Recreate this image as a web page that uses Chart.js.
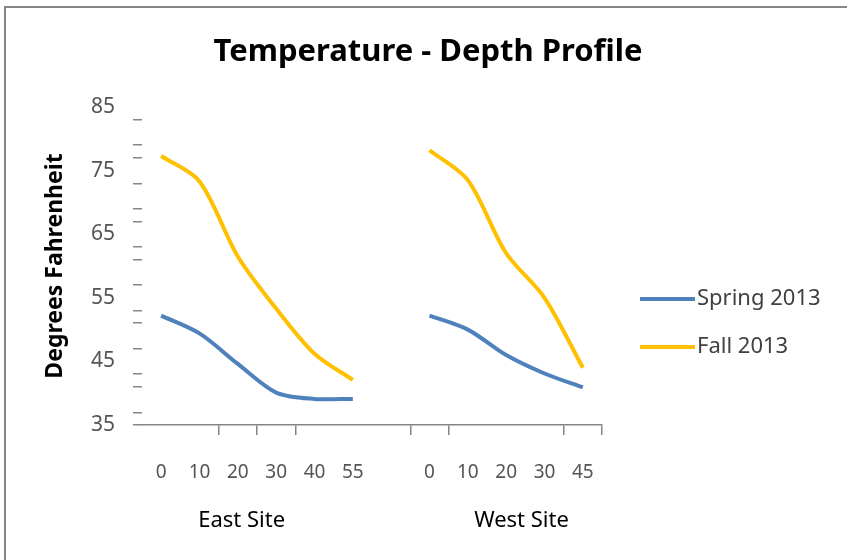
<!DOCTYPE html>
<html>
<head>
<meta charset="utf-8">
<title>Temperature - Depth Profile</title>
<script src="https://cdn.jsdelivr.net/npm/chart.js@4.4.1/dist/chart.umd.min.js"></script>
<style>
  body { margin: 0; background: #fff; }
  #wrap { position: relative; width: 847px; height: 560px; overflow: hidden; }
  #frame { position: absolute; left: 4px; top: 6px; width: 900px; height: 600px;
           border-top: 2px solid #868686; border-left: 2px solid #868686; pointer-events: none; }
</style>
</head>
<body>
<div id="wrap">
  <canvas id="myChart"></canvas>
  <div id="frame"></div>
</div>
<script>
// depth labels, blank slot between the two sites
const depthLabels = ["0", "10", "20", "30", "40", "55", "", "0", "10", "20", "30", "45"];
const groupLabels = ["East Site", "West Site"];

// degrees F
const springEast = [52.2, 49.4, 44.6, 40.1, 39.1, 39.1];
const springWest = [52.2, 50.0, 46.0, 43.1, 40.9];
const fallEast = [77.3, 73.3, 61.5, 53.3, 46.2, 42.1];
const fallWest = [78.2, 73.5, 62.0, 55.0, 44.0];

const yTickLabels = [35, 45, 55, 65, 75, 85];
// the little tick marks that show on the value axis
const yTickMarks = [35, 37, 41, 43, 47, 51, 53, 57, 61, 63, 67, 69, 73, 77, 79, 83];
// which category boundaries have a tick mark
const xTickMarks = [2, 3, 4, 7, 8, 11, 12];

const FONT = "'Noto Sans', sans-serif";

// title, legend and site names
const overlay = {
  id: "overlay",
  afterDraw(chart) {
    const ctx = chart.ctx;
    const x = chart.scales.x;
    ctx.save();

    ctx.fillStyle = "#000";
    ctx.textAlign = "center";
    ctx.textBaseline = "middle";
    ctx.font = "bold 31px " + FONT;
    ctx.fillText("Temperature - Depth Profile", 428, 52);

    ctx.font = "22px " + FONT;
    ctx.fillText(groupLabels[0], x.getPixelForValue(2.1), 521);
    ctx.fillText(groupLabels[1], x.getPixelForValue(9.4), 521);

    chart.data.datasets.forEach((ds, i) => {
      const y = 299 + i * 48;
      ctx.strokeStyle = ds.borderColor;
      ctx.lineWidth = 4;
      ctx.beginPath();
      ctx.moveTo(640, y);
      ctx.lineTo(695, y);
      ctx.stroke();
      ctx.fillStyle = "#404040";
      ctx.textAlign = "left";
      ctx.font = "22px " + FONT;
      ctx.fillText(ds.label, 697, y);
    });
    ctx.restore();
  }
};

const ctx = document.getElementById("myChart").getContext("2d");
new Chart(ctx, {
  type: "line",
  data: {
    labels: depthLabels,
    datasets: [
      {
        label: "Spring 2013",
        data: springEast.concat([null], springWest),
        borderColor: "#4F81BD",
        backgroundColor: "#4F81BD",
        borderWidth: 4,
        pointRadius: 0,
        tension: 0.3
      },
      {
        label: "Fall 2013",
        data: fallEast.concat([null], fallWest),
        borderColor: "#FFC000",
        backgroundColor: "#FFC000",
        borderWidth: 4,
        pointRadius: 0,
        tension: 0.3
      }
    ]
  },
  options: {
    responsive: true,
    maintainAspectRatio: false,
    animation: false,
    layout: { padding: { top: 107, right: 245, bottom: 0, left: 0 } },
    plugins: {
      legend: { display: false },
      title: { display: false },
      tooltip: { enabled: false }
    },
    scales: {
      x: {
        offset: true,
        afterFit(s) { s.height = 135; },
        border: { display: true, color: "#868686", width: 1.5 },
        grid: {
          offset: true,
          drawOnChartArea: false,
          drawTicks: true,
          tickLength: 10,
          lineWidth: 1.5,
          color: (c) => (c.type !== "tick" || xTickMarks.includes(c.index)) ? "#868686" : "rgba(0,0,0,0)"
        },
        ticks: {
          autoSkip: false,
          maxRotation: 0,
          padding: 26,
          color: "#555",
          font: { family: FONT, size: 19 }
        }
      },
      y: {
        min: 35,
        max: 85,
        afterFit(s) { s.width = 142; },
        border: { display: false },
        grid: {
          drawOnChartArea: false,
          drawTicks: true,
          tickLength: 9,
          lineWidth: 1.5,
          color: (c) => (c.tick && yTickMarks.includes(c.tick.value)) ? "#868686" : "rgba(0,0,0,0)"
        },
        ticks: {
          stepSize: 1,
          autoSkip: false,
          padding: 18,
          color: "#555",
          font: { family: FONT, size: 21 },
          callback: (v) => yTickLabels.includes(v) ? String(v) : ""
        },
        title: {
          display: true,
          text: "Degrees Fahrenheit",
          color: "#000",
          font: { family: FONT, size: 23, weight: "bold" },
          padding: { top: 42, bottom: 0 }
        }
      }
    }
  },
  plugins: [overlay]
});
</script>
</body>
</html>
